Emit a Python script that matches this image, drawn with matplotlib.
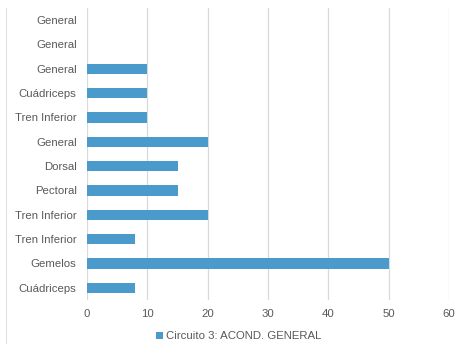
import matplotlib.pyplot as plt
from matplotlib.lines import Line2D

# exercises listed top to bottom, with their values
categories = ['General', 'General', 'General', 'Cuádriceps', 'Tren Inferior', 'General',
              'Dorsal', 'Pectoral', 'Tren Inferior', 'Tren Inferior', 'Gemelos', 'Cuádriceps']
values = [0, 0, 10, 10, 10, 20, 15, 15, 20, 8, 50, 8]
x_ticks = [0, 10, 20, 30, 40, 50, 60]
series_name = 'Circuito 3: ACOND. GENERAL'

BAR_COLOR = '#4A9ACB'
TEXT_COLOR = '#595959'
GRID_COLOR = '#D9D9D9'

plt.rcParams['font.family'] = ['Liberation Sans', 'DejaVu Sans']

fig = plt.figure(figsize=(4.64, 3.44), dpi=100)
ax = fig.add_axes([0.1875, 0.128, 0.7802, 0.849])

positions = list(range(len(categories)))[::-1]
ax.barh(positions, values, height=0.42, color=BAR_COLOR, label=series_name, zorder=3)

ax.set_xlim(0, 60)
ax.set_ylim(-0.5, len(categories) - 0.5)
ax.set_xticks(x_ticks)
ax.set_xticklabels([str(t) for t in x_ticks])
ax.set_yticks(positions)
ax.set_yticklabels(categories)

ax.grid(axis='x', color=GRID_COLOR, linewidth=0.9, zorder=0)
ax.tick_params(axis='both', length=0, labelsize=8.2, labelcolor=TEXT_COLOR)
ax.tick_params(axis='x', pad=6.5)
ax.tick_params(axis='y', pad=7.5)
for spine in ax.spines.values():
    spine.set_visible(False)

fig.legend(loc='center', bbox_to_anchor=(0.515, 0.022), frameon=False, fontsize=8.2,
           labelcolor=TEXT_COLOR, handlelength=0.6, handleheight=0.6, handletextpad=0.25)

# faint chart border on the left edge
fig.add_artist(Line2D([0.013, 0.013], [0.0, 0.977], transform=fig.transFigure,
                      color='#E0E0E0', linewidth=0.8))

fig.savefig('out.png', dpi=100)
